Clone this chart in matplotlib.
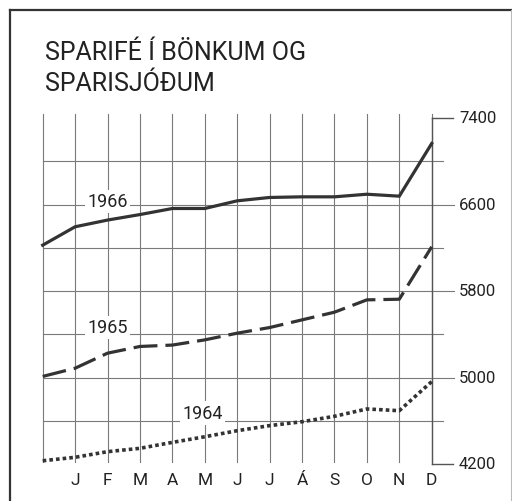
import matplotlib
matplotlib.use("Agg")
import matplotlib.pyplot as plt
from matplotlib.lines import Line2D

plt.rcParams['font.family'] = ['Roboto', 'DejaVu Sans']

# data (position 0 = end of previous year)
months = ["J", "F", "M", "A", "M", "J", "J", "Á", "S", "O", "N", "D"]
pos = list(range(13))
y1966 = [6224, 6394, 6456, 6507, 6563, 6563, 6634, 6665, 6671, 6671, 6695, 6677, 7164]
y1965 = [5010, 5086, 5225, 5287, 5300, 5348, 5410, 5462, 5533, 5604, 5718, 5724, 6209]
y1964 = [4230, 4262, 4314, 4345, 4400, 4452, 4508, 4555, 4591, 4641, 4709, 4693, 4962]
grid_vals = [4600, 5000, 5400, 5800, 6200, 6600, 7000]
right_labels = [7400, 6600, 5800, 5000, 4200]

W, H = 512, 502
fig = plt.figure(figsize=(W / 100, H / 100), dpi=100)
fig.patch.set_facecolor("white")

# outer frame
fig.add_artist(Line2D([10 / W, 10 / W], [0, 1 - 11 / H], transform=fig.transFigure, color="#333333", lw=1.6))
fig.add_artist(Line2D([10 / W, 1], [1 - 11 / H, 1 - 11 / H], transform=fig.transFigure, color="#333333", lw=1.6))
fig.add_artist(Line2D([511 / W, 511 / W], [0, 1 - 11 / H], transform=fig.transFigure, color="#bbbbbb", lw=0.8))

x0, x1 = 42.7, 431.7
ytop, ybot = 119, 465
ax = fig.add_axes([x0 / W, 1 - ybot / H, (x1 - x0) / W, (ybot - ytop) / H])
ax.set_xlim(0, 12)
ax.set_ylim(4200, 7400)
ax.axis("off")

gc = "#7a7a7a"
for p in pos:
    ax.plot([p, p], [4220, 7437], color=gc, lw=0.8, clip_on=False, zorder=1)
for g in grid_vals:
    end = 12.69 if g in right_labels else 12.35
    ax.plot([0, end], [g, g], color=gc, lw=0.8, clip_on=False, zorder=1)

# right scale brackets
ax.plot([12, 12], [4200, 7400], color="#555555", lw=1.0, clip_on=False, zorder=1)
for v in [7400, 4200]:
    ax.plot([12, 12.66], [v, v], color="#555555", lw=1.0, clip_on=False, zorder=1)
for v in right_labels:
    ax.text(12.84, v, str(v), ha="left", va="center", fontsize=12, color="#222222")

for i, m in enumerate(months):
    ax.text(i + 1, 4060, m, ha="center", va="center", fontsize=12.5, color="#222222")

lc = "#333333"
ax.plot(pos, y1966, color=lc, lw=2.3, solid_joinstyle="miter", zorder=3, clip_on=False)
ax.plot(pos, y1965, color=lc, lw=2.3, dashes=(7.5, 2.5), dash_capstyle="butt", zorder=3, clip_on=False)
ax.plot(pos, y1964, color=lc, lw=2.6, dashes=(1.0, 0.85), dash_capstyle="butt", zorder=3, clip_on=False)

bb = dict(boxstyle="square,pad=0.15", fc="white", ec="none")
ax.text(2.0, 6628, "1966", ha="center", va="center", fontsize=13, color="#222222", bbox=bb, zorder=2)
ax.text(2.0, 5465, "1965", ha="center", va="center", fontsize=13, color="#222222", bbox=bb, zorder=2)
ax.text(4.93, 4670, "1964", ha="center", va="center", fontsize=13, color="#222222", bbox=bb, zorder=2)

fig.text(45 / W, 1 - 53 / H, "SPARIFÉ Í BÖNKUM OG", ha="left", va="center", fontsize=18, color="#222222")
fig.text(45 / W, 1 - 84 / H, "SPARISJÓÐUM", ha="left", va="center", fontsize=18, color="#222222")

fig.savefig("out.png", dpi=100, facecolor="white")
